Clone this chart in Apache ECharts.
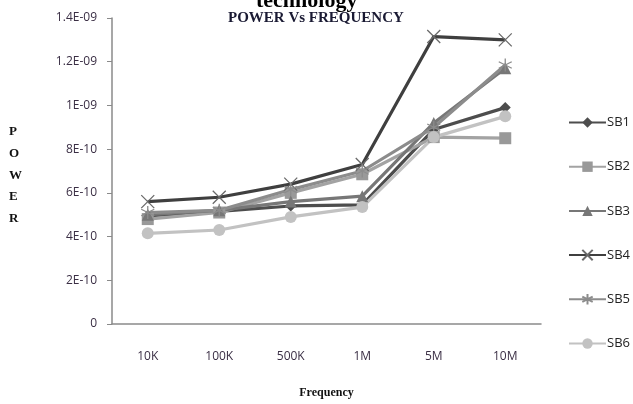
<!DOCTYPE html>
<html>
<head>
<meta charset="utf-8">
<script src="https://cdn.jsdelivr.net/npm/echarts@6/dist/echarts.min.js"></script>
<style>
  html, body { margin: 0; padding: 0; background: #fff; }
  #chart { width: 633px; height: 404px; }
</style>
</head>
<body>
<div id="chart"></div>
<script>
// Frequency categories
const categories = ['10K', '100K', '500K', '1M', '5M', '10M'];

// Power (W) for each supply block
const SB1 = [4.95e-10, 5.15e-10, 5.4e-10, 5.45e-10, 8.9e-10, 9.9e-10];
const SB2 = [4.8e-10, 5.1e-10, 6.0e-10, 6.85e-10, 8.55e-10, 8.5e-10];
const SB3 = [5.0e-10, 5.2e-10, 5.6e-10, 5.85e-10, 9.2e-10, 1.17e-9];
const SB4 = [5.6e-10, 5.8e-10, 6.4e-10, 7.3e-10, 1.315e-9, 1.3e-9];
const SB5 = [5.1e-10, 5.2e-10, 6.15e-10, 7.0e-10, 9.0e-10, 1.185e-9];
const SB6 = [4.15e-10, 4.3e-10, 4.9e-10, 5.35e-10, 8.55e-10, 9.5e-10];

// Y axis tick labels, one per 2E-10 step
const yTickLabels = ['0', '2E-10', '4E-10', '6E-10', '8E-10', '1E-09', '1.2E-09', '1.4E-09'];
const yStep = 2e-10;

const crossPath = 'path://M0,0L10,10M10,0L0,10';
const starPath = 'path://M5,0L5,10M0,2.5L10,7.5M0,7.5L10,2.5';

function makeSeries(name, data, color, symbol, size, markerColor, stroke) {
  return {
    name: name,
    type: 'line',
    data: data,
    symbol: symbol,
    symbolSize: size,
    color: color,
    lineStyle: { color: color, width: 3.2 },
    itemStyle: stroke
      ? { color: markerColor, borderColor: markerColor, borderWidth: 1.3 }
      : { color: markerColor, borderWidth: 0 },
    emphasis: { disabled: true },
    animation: false
  };
}

const chart = echarts.init(document.getElementById('chart'), null, { renderer: 'canvas' });

chart.setOption({
  backgroundColor: '#ffffff',
  animation: false,
  grid: { left: 112, right: 92, top: 18, bottom: 79, containLabel: false },
  xAxis: {
    type: 'category',
    data: categories,
    boundaryGap: true,
    axisLine: { lineStyle: { color: '#8a8a8a', width: 1.5 } },
    axisTick: { show: false },
    axisLabel: { margin: 27, color: '#3a2e44', fontSize: 12, fontFamily: 'Open Sans' },
    name: 'Frequency',
    nameLocation: 'middle',
    nameGap: 63,
    nameTextStyle: { fontFamily: 'Liberation Serif', fontWeight: 'bold', fontSize: 12, color: '#111' }
  },
  yAxis: {
    type: 'value',
    min: 0,
    max: 1.4e-9,
    interval: yStep,
    axisLine: { show: true, lineStyle: { color: '#8a8a8a', width: 1.5 } },
    axisTick: { show: true, length: 5, lineStyle: { color: '#8a8a8a' } },
    splitLine: { show: false },
    axisLabel: {
      margin: 15,
      color: '#3a2e44',
      fontSize: 12,
      fontFamily: 'Open Sans',
      formatter: function (v) { return yTickLabels[Math.round(v / yStep)]; }
    }
  },
  legend: {
    orient: 'vertical',
    left: 568,
    top: 116,
    padding: 0,
    itemWidth: 37,
    itemHeight: 13,
    itemGap: 31.2,
    textStyle: { fontSize: 13, fontFamily: 'Open Sans', color: '#222', padding: [0, 0, 0, -4] },
    data: ['SB1', 'SB2', 'SB3', 'SB4', 'SB5', 'SB6']
  },
  graphic: [
    {
      type: 'text', left: 256, top: -10,
      style: { text: 'technology', font: 'bold 22px "Liberation Serif"', fill: '#000' }
    },
    {
      type: 'text', left: 228, top: 11,
      style: { text: 'POWER Vs FREQUENCY', font: 'bold 15px "Liberation Serif"', fill: '#1a1a33' }
    },
    {
      type: 'text', left: 9, top: 121,
      style: { text: 'P\nO\nW\nE\nR', font: 'bold 13px "Liberation Serif"', fill: '#111', lineHeight: 21.7, align: 'center', width: 12 }
    }
  ],
  series: [
    makeSeries('SB1', SB1, '#4d4d4d', 'diamond', 11, '#4d4d4d', false),
    makeSeries('SB2', SB2, '#a3a3a3', 'rect', 12, '#999999', false),
    makeSeries('SB3', SB3, '#777777', 'triangle', 12, '#777777', false),
    makeSeries('SB4', SB4, '#3f3f3f', crossPath, 13, '#6a6a6a', true),
    makeSeries('SB5', SB5, '#8c8c8c', starPath, 13, '#8c8c8c', true),
    makeSeries('SB6', SB6, '#c2c2c2', 'circle', 12, '#c2c2c2', false)
  ]
});
</script>
</body>
</html>
